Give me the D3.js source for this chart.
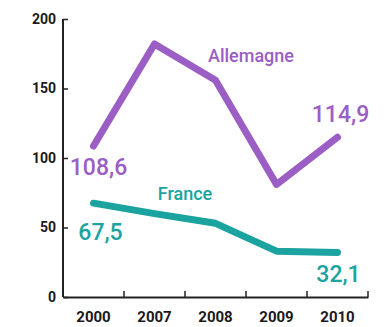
<!DOCTYPE html>
<html><head><meta charset="utf-8">
<script src="https://cdn.jsdelivr.net/npm/d3@7"></script>
<style>
html,body{margin:0;padding:0;background:#fff;}
text{font-family:Roboto,"Liberation Sans",sans-serif;}
</style></head>
<body>
<svg id="chart" width="384" height="327"></svg>
<script>
const years = ["2000","2007","2008","2009","2010"];
const allemagne = [108.6, 182, 156, 81, 114.9];
const france = [67.5, 60, 53, 33, 32.1];
const yTicks = [0, 50, 100, 150, 200];
const seriesNames = ["Allemagne", "France"];
const colors = ["#9a5ec4", "#1aa39f"];

const svg = d3.select("#chart");
const x = d3.scaleBand().domain(years).range([63, 368]);
const y = d3.scaleLinear().domain([0, 200]).range([297, 19]);
const cx = d => x(d) + x.bandwidth() / 2;

// y axis
const ya = svg.append("g").attr("transform", "translate(63,0)")
  .call(d3.axisLeft(y).tickValues(yTicks).tickSize(-5).tickPadding(7).tickFormat(d3.format("d")));
ya.select(".domain").attr("stroke", "#222").attr("stroke-width", 2).attr("d", `M0,${y(200)}H0V${y(0)}`);
ya.selectAll(".tick line").attr("stroke", "#222").attr("stroke-width", 1.5);
ya.selectAll(".tick text").attr("font-size", 14).attr("font-weight", 700).attr("fill", "#1a1a1a");

// x axis
const xa = svg.append("g").attr("transform", `translate(0,${y(0)})`)
  .call(d3.axisBottom(x).tickSize(0).tickPadding(14));
xa.select(".domain").attr("stroke", "#222").attr("stroke-width", 2);
xa.selectAll(".tick text").attr("font-size", 15).attr("font-weight", 700).attr("fill", "#1a1a1a");
xa.selectAll(".bnd").data(years).enter().append("line")
  .attr("x1", d => x(d) + x.bandwidth()).attr("x2", d => x(d) + x.bandwidth())
  .attr("y1", 0).attr("y2", -6).attr("stroke", "#222").attr("stroke-width", 1.5);

const line = d3.line().x((d, i) => cx(years[i])).y(d => y(d));
[allemagne, france].forEach((s, k) => {
  svg.append("path").datum(s).attr("d", line).attr("fill", "none")
    .attr("stroke", colors[k]).attr("stroke-width", 7)
    .attr("stroke-linecap", "round").attr("stroke-linejoin", "round");
});

const fmt = v => String(v).replace(".", ",");
const lab = (t, xx, yy, col, size, w) => svg.append("text").attr("x", xx).attr("y", yy)
  .attr("text-anchor", "middle").attr("fill", col).attr("font-size", size)
  .attr("font-weight", w).text(t);

lab(fmt(allemagne[0]), cx(years[0]) + 5, y(allemagne[0]) + 29, colors[0], 23, 500);
lab(fmt(allemagne[4]), cx(years[4]) + 3, y(allemagne[4]) - 15, colors[0], 23, 500);
lab(fmt(france[0]), cx(years[0]) + 7, y(france[0]) + 37, colors[1], 23, 500);
lab(fmt(france[4]), cx(years[4]) + 1, y(france[4]) + 30, colors[1], 23, 500);
lab(seriesNames[0], (cx(years[2]) + cx(years[3])) / 2 + 5, 62, colors[0], 18, 500);
lab(seriesNames[1], (cx(years[1]) + cx(years[2])) / 2, 200, colors[1], 18, 500);
</script>
</body></html>
